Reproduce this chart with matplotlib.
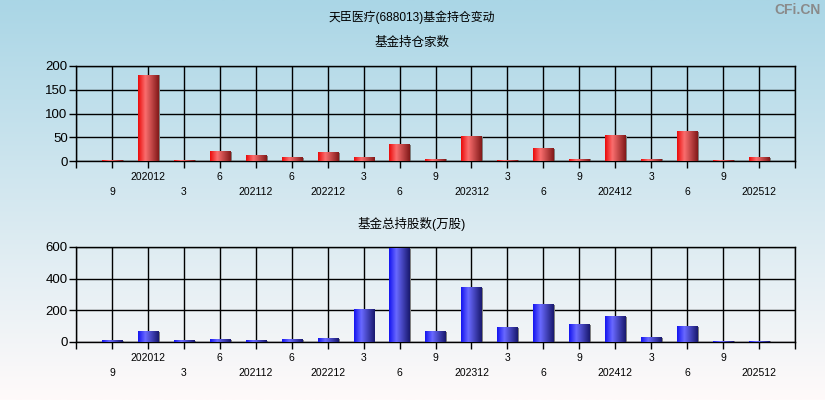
import numpy as np
import matplotlib
matplotlib.use("Agg")
import matplotlib.pyplot as plt

plt.rcParams['font.family'] = ['Liberation Sans', 'Noto Sans CJK SC', 'DejaVu Sans']

title = "天臣医疗(688013)基金持仓变动"
sub1 = "基金持仓家数"
sub2 = "基金总持股数(万股)"

labels = ["9", "202012", "3", "6", "202112", "6", "202212", "3", "6", "9",
          "202312", "3", "6", "9", "202412", "3", "6", "9", "202512"]
fund_count = [2, 181, 2, 19, 11, 7, 17, 7, 34, 4, 51, 2, 26, 4, 53, 4, 62, 2, 7]
fund_shares = [7, 65, 7, 14, 7, 14, 21, 205, 590, 65, 344, 91, 236, 110, 160, 27, 97, 4, 4]

W, H = 825, 400
fig = plt.figure(figsize=(W / 100, H / 100), dpi=100)

# background gradient
bg = fig.add_axes([0, 0, 1, 1], zorder=-10)
top = np.array([170, 214, 230]) / 255
bot = np.array([255, 250, 250]) / 255
t = np.linspace(0, 1, 256)[:, None]
grad = top[None, :] * (1 - t) + bot[None, :] * t
bg.imshow(grad[:, None, :], aspect='auto', extent=[0, 1, 0, 1])
bg.set_axis_off()

def bar_gradient(base):
    xs = np.linspace(0, 1, 64)
    cols = []
    for x in xs:
        if x < 0.35:
            f = x / 0.35
            c = base['left'] * (1 - f) + base['mid'] * f
        else:
            f = (x - 0.35) / 0.65
            c = base['mid'] * (1 - f) + base['right'] * f
        cols.append(c)
    return np.array(cols)[None, :, :]

red = dict(left=np.array([235, 10, 10]) / 255, mid=np.array([250, 110, 110]) / 255,
           right=np.array([130, 25, 25]) / 255)
blue = dict(left=np.array([20, 20, 240]) / 255, mid=np.array([105, 105, 255]) / 255,
            right=np.array([25, 25, 110]) / 255)

x0 = 76 / W
wid = (795 - 76) / W

def draw(ax_rect, values, yticks, ymax, cmap):
    ax = fig.add_axes(ax_rect)
    ax.set_facecolor('none')
    n = len(values)
    pos = np.arange(1, n + 1)
    ax.set_xlim(0, n + 1)
    ax.set_ylim(0, ymax)
    ax.set_xticks(np.arange(0, n + 2))
    ax.set_xticklabels([""] + [("\n" if i % 2 == 0 else "") + l for i, l in enumerate(labels)] + [""],
                       fontsize=7.5, linespacing=1.6, va='top')
    ax.set_yticks(yticks)
    ax.set_yticklabels([str(v) for v in yticks], fontsize=9.5)
    ax.tick_params(axis='x', direction='out', length=5, width=1, color='black', pad=3)
    ax.tick_params(axis='y', direction='out', length=5, width=1, color='black', pad=1)
    ax.grid(True, color='black', linewidth=1, zorder=0)
    ax.set_axisbelow(True)
    for s in ax.spines.values():
        s.set_color('black')
        s.set_linewidth(1)
    g = bar_gradient(cmap)
    w = 0.56
    ax.bar(pos + 0.05, values, width=w, color='#808080', zorder=2)
    for p, v in zip(pos, values):
        ax.imshow(g, extent=[p - w / 2, p + w / 2, 0, v], aspect='auto', zorder=3,
                  interpolation='bilinear')
    ax.set_xlim(0, n + 1)
    ax.set_ylim(0, ymax)
    ax.set_aspect('auto')
    return ax

draw([x0, 1 - 161 / H, wid, (161 - 66) / H], fund_count, [0, 50, 100, 150, 200], 200, red)
draw([x0, 1 - 342 / H, wid, (342 - 247) / H], fund_shares, [0, 200, 400, 600], 600, blue)

fig.text(412 / W, 1 - 17 / H, title, ha='center', va='center', fontsize=8.6)
fig.text(412 / W, 1 - 43 / H, sub1, ha='center', va='center', fontsize=9)
fig.text(412 / W, 1 - 224 / H, sub2, ha='center', va='center', fontsize=9)
fig.text(821 / W, 1 - 10 / H, "CFi.CN", ha='right', va='center', fontsize=10,
         fontweight='bold', color='#8a8a8a')

fig.savefig("out.png", dpi=100)
